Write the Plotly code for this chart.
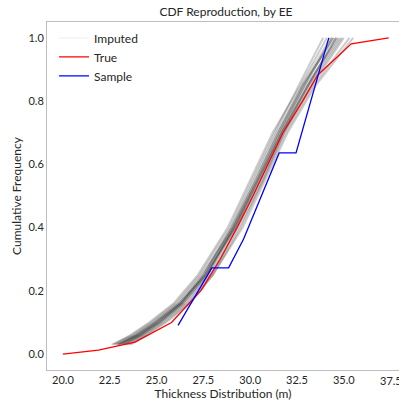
import plotly.graph_objects as go

# True CDF
true_x = [20.0, 21.9, 23.85, 25.8, 27.4, 28.4, 29.3, 30.15, 30.95, 31.75, 32.8, 33.6, 35.4, 37.4]
true_y = [0.0, 0.013, 0.038, 0.100, 0.203, 0.30, 0.40, 0.50, 0.60, 0.70, 0.80, 0.882, 0.981, 1.0]

# Sample CDF
sample_x = [26.15, 27.95, 28.85, 29.65, 31.55, 32.45, 34.2]
sample_y = [0.091, 0.273, 0.273, 0.364, 0.636, 0.636, 1.0]

# Imputed CDFs (x at common cumulative levels)
imp_y = [0.03, 0.06, 0.10, 0.16, 0.25, 0.40, 0.55, 0.70, 0.85, 1.00]
imp_1 = [22.6, 23.7, 24.7, 26.0, 27.3, 28.9, 30.1, 31.3, 32.6, 33.9]
imp_2 = [23.2, 24.2, 25.2, 26.5, 27.8, 29.3, 30.6, 31.8, 33.3, 35.0]
imp_3 = [22.9, 23.9, 24.9, 26.2, 27.5, 29.0, 30.3, 31.5, 32.9, 34.4]
imp_4 = [23.4, 24.3, 25.3, 26.6, 27.9, 29.4, 30.7, 31.9, 33.4, 35.3]
imp_5 = [22.8, 23.8, 24.8, 26.1, 27.4, 29.1, 30.4, 31.6, 33.0, 34.7]
imp_6 = [23.1, 24.1, 25.1, 26.4, 27.7, 29.2, 30.5, 31.7, 33.1, 34.6]
imp_7 = [23.6, 24.5, 25.5, 26.8, 28.0, 29.5, 30.7, 31.8, 33.2, 34.9]
imp_8 = [22.7, 23.6, 24.6, 25.9, 27.2, 28.8, 30.0, 31.2, 32.7, 34.1]
imp_9 = [23.0, 24.0, 25.0, 26.3, 27.6, 29.2, 30.4, 31.7, 33.1, 34.8]
imp_10 = [23.3, 24.2, 25.2, 26.4, 27.7, 29.1, 30.3, 31.5, 32.8, 34.3]
imp_11 = [22.9, 24.0, 25.1, 26.3, 27.5, 29.0, 30.2, 31.4, 32.8, 34.5]
imp_12 = [23.5, 24.4, 25.4, 26.7, 28.0, 29.6, 30.8, 32.0, 33.5, 35.5]
imp_13 = [23.0, 23.9, 24.9, 26.2, 27.6, 29.2, 30.5, 31.7, 33.1, 34.6]
imp_14 = [23.2, 24.1, 25.0, 26.3, 27.6, 29.1, 30.4, 31.6, 32.9, 34.4]
imputed = [imp_1, imp_2, imp_3, imp_4, imp_5, imp_6, imp_7, imp_8, imp_9,
           imp_10, imp_11, imp_12, imp_13, imp_14]

x_ticks = [20.0, 22.5, 25.0, 27.5, 30.0, 32.5, 35.0]
edge_tick = 37.5
y_ticks = [0.0, 0.2, 0.4, 0.6, 0.8, 1.0]

FONT = "Lato"
TXT = "#262626"

fig = go.Figure()
# legend-only entry for the imputed family (drawn very faint, as in the reference)
fig.add_trace(go.Scatter(x=[None], y=[None], mode="lines", name="Imputed",
                         line=dict(color="rgba(0,0,0,0.05)", width=1.5)))
for xs in imputed:
    fig.add_trace(go.Scatter(
        x=xs, y=imp_y, mode="lines", name="Imputed",
        line=dict(color="rgba(0,0,0,0.2)", width=2.0),
        showlegend=False, hoverinfo="skip"))
fig.add_trace(go.Scatter(x=true_x, y=true_y, mode="lines", name="True",
                         line=dict(color="#ff0000", width=1.3)))
fig.add_trace(go.Scatter(x=sample_x, y=sample_y, mode="lines", name="Sample",
                         line=dict(color="#0000ff", width=1.3)))

fig.update_layout(
    width=399, height=402,
    margin=dict(l=47, r=0, t=22, b=32),
    paper_bgcolor="white", plot_bgcolor="white",
    font=dict(family=FONT, size=12, color=TXT),
    title=dict(text="CDF Reproduction, by EE", x=226 / 399, xanchor="center",
               y=1 - 12 / 402, yanchor="middle", font=dict(size=12, color=TXT)),
    legend=dict(x=0.02, y=0.996, xanchor="left", yanchor="top",
                tracegroupgap=0, itemwidth=30,
                bgcolor="rgba(0,0,0,0)", font=dict(size=12, color=TXT)),
    showlegend=True,
    annotations=[dict(x=edge_tick, y=0, xref="x", yref="paper",
                      text=f"{edge_tick:.1f}", showarrow=False,
                      xanchor="center", yanchor="top", yshift=-2,
                      font=dict(size=11, color=TXT))],
)
fig.update_xaxes(range=[19.15, 37.95], tickvals=x_ticks,
                 ticktext=[f"{v:.1f}" for v in x_ticks],
                 showgrid=False, zeroline=False, showline=True, mirror=True,
                 linecolor="#bdbdbd", linewidth=1, ticks="",
                 tickfont=dict(size=11, color=TXT),
                 title=dict(text="Thickness Distribution (m)", standoff=0,
                            font=dict(size=12, color=TXT)))
fig.update_yaxes(range=[-0.05, 1.05], tickvals=y_ticks,
                 ticktext=[f"{v:.1f}" for v in y_ticks],
                 showgrid=False, zeroline=False, showline=True,
                 linecolor="#bdbdbd", linewidth=1, ticks="",
                 tickfont=dict(size=11, color=TXT),
                 title=dict(text="Cumulative Frequency", standoff=4,
                            font=dict(size=12, color=TXT)))

fig.write_html("out.html")
